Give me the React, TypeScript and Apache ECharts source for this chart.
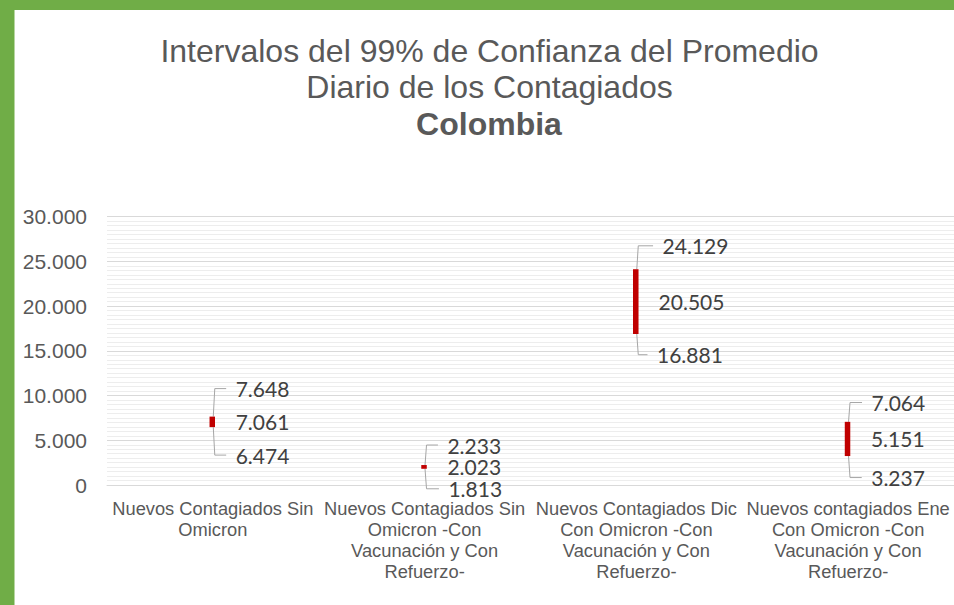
import React, { useEffect, useRef } from "react";
import * as echarts from "echarts";

const categories = [
  "Nuevos Contagiados Sin\nOmicron",
  "Nuevos Contagiados Sin\nOmicron -Con\nVacunación y Con\nRefuerzo-",
  "Nuevos Contagiados Dic\nCon Omicron -Con\nVacunación y Con\nRefuerzo-",
  "Nuevos contagiados Ene\nCon Omicron -Con\nVacunación y Con\nRefuerzo-",
];
const lowValues = [6474, 1813, 16881, 3237];
const meanValues = [7061, 2023, 20505, 5151];
const highValues = [7648, 2233, 24129, 7064];
const yTicks = [0, 5000, 10000, 15000, 20000, 25000, 30000];

// label placement (pixels) per bar: [dxTop, dyTop, dxMid, dxBot, dyBot]
const labelLayout = [
  [23.4, 28, 23.4, 23.4, 28],
  [23.4, 20, 23.4, 24.4, 20],
  [26.8, 23.4, 22.8, 21.2, 20.7],
  [24, 19.3, 23.4, 23.7, 21.5],
];

const fmt = (n: number) =>
  Math.round(n)
    .toString()
    .replace(/\B(?=(\d{3})+(?!\d))/g, ".");

export default function App() {
  const ref = useRef<HTMLDivElement>(null);
  useEffect(() => {
    if (!ref.current) return;
    const chart = echarts.init(ref.current, undefined, { renderer: "svg" });
    const data = categories.map((_, i) => [i, lowValues[i], meanValues[i], highValues[i]]);
    const labelFont = "21px Lato";
    const labelColor = "#404040";
    const leaderColor = "#A6A6A6";
    const titleStyle = (text: string, bold: boolean) => ({
      text,
      font: (bold ? "bold " : "") + "32px 'Liberation Sans', Arial, sans-serif",
      fill: "#595959",
      textAlign: "center",
      textVerticalAlign: "middle",
      verticalAlign: "middle",
    });
    chart.setOption({
      animation: false,
      backgroundColor: "#ffffff",
      graphic: [
        { type: "rect", shape: { x: 0, y: 0, width: 14.5, height: 605 }, style: { fill: "#70AD47" }, z: 10 },
        { type: "rect", shape: { x: 0, y: 0, width: 954, height: 10 }, style: { fill: "#70AD47" }, z: 10 },
        { type: "text", x: 489.5, y: 50.5, style: titleStyle("Intervalos del 99% de Confianza del Promedio", false) },
        { type: "text", x: 489.5, y: 87, style: titleStyle("Diario de los Contagiados", false) },
        { type: "text", x: 489, y: 123.5, style: titleStyle("Colombia", true) },
      ],
      grid: { left: 107, top: 216.7, width: 856, height: 268.3, containLabel: false },
      xAxis: {
        type: "category",
        data: categories,
        boundaryGap: true,
        axisTick: { show: false },
        axisLine: { show: true, lineStyle: { color: "#D9D9D9", width: 1 } },
        axisLabel: {
          interval: 0,
          fontSize: 18.3,
          fontFamily: "'Liberation Sans', Arial, sans-serif",
          color: "#595959",
          lineHeight: 21,
          margin: 13,
        },
        splitLine: { show: false },
      },
      yAxis: {
        type: "value",
        min: yTicks[0],
        max: yTicks[yTicks.length - 1],
        interval: yTicks[1] - yTicks[0],
        axisLine: { show: false },
        axisTick: { show: false },
        axisLabel: {
          fontSize: 21,
          fontFamily: "'Liberation Sans', Arial, sans-serif",
          color: "#595959",
          margin: 20,
          formatter: (v: number) => fmt(v),
        },
        splitLine: { show: true, lineStyle: { color: "#D9D9D9", width: 1.2 } },
        minorTick: { show: false, splitNumber: 10 },
        minorSplitLine: { show: true, lineStyle: { color: "#EDEDED", width: 1 } },
      },
      series: [
        {
          type: "custom",
          data,
          encode: { x: 0, y: [1, 2, 3] },
          clip: false,
          renderItem: (params: any, api: any) => {
            const i = api.value(0);
            const lo = api.value(1);
            const mid = api.value(2);
            const hi = api.value(3);
            const pTop = api.coord([i, hi]);
            const pBot = api.coord([i, lo]);
            const pMid = api.coord([i, mid]);
            const cx = pTop[0] - 0.6;
            const L = labelLayout[i];
            const bw = 5.5;
            const topY = pTop[1] - L[1];
            const botY = pBot[1] + L[4];
            const mkText = (t: string, x: number, y: number) => ({
              type: "text",
              style: {
                text: t,
                x,
                y,
                font: labelFont,
                lineHeight: 18,
                fill: labelColor,
                textAlign: "left",
                textVerticalAlign: "middle",
                verticalAlign: "middle",
              },
            });
            return {
              type: "group",
              children: [
                {
                  type: "polyline",
                  shape: {
                    points: [
                      [cx + 1, pTop[1]],
                      [cx + 2.5, topY],
                      [cx + L[0] - 9.5, topY],
                    ],
                  },
                  style: { stroke: leaderColor, lineWidth: 1, fill: "none" },
                },
                {
                  type: "polyline",
                  shape: {
                    points: [
                      [cx + 1, pBot[1]],
                      [cx + 2.5, botY],
                      [cx + L[3] - 9.5, botY],
                    ],
                  },
                  style: { stroke: leaderColor, lineWidth: 1, fill: "none" },
                },
                {
                  type: "rect",
                  shape: { x: cx - bw / 2, y: pTop[1], width: bw, height: Math.max(pBot[1] - pTop[1], 1) },
                  style: { fill: "#C00000" },
                },
                mkText(fmt(hi), cx + L[0], topY),
                mkText(fmt(mid), cx + L[2], pMid[1]),
                mkText(fmt(lo), cx + L[3], botY),
              ],
            };
          },
        },
      ],
    });
    return () => chart.dispose();
  }, []);
  return (
    <div style={{ position: "fixed", left: 0, top: 0, width: 954, height: 605 }}>
      <div ref={ref} style={{ width: 954, height: 605 }} />
    </div>
  );
}
